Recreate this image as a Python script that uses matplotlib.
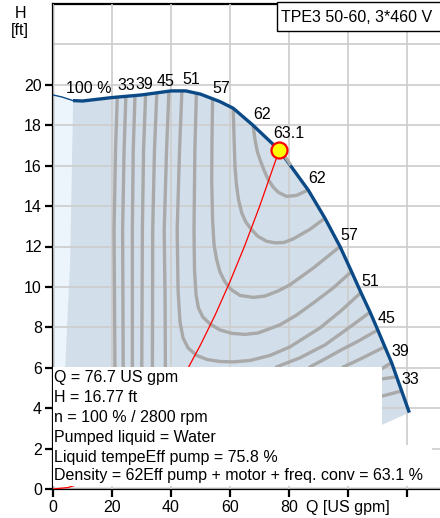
import matplotlib.pyplot as plt
from matplotlib.patches import Rectangle, Polygon

plt.rcParams['font.family'] = ['Liberation Sans', 'DejaVu Sans']
plt.rcParams['font.size'] = 11.5

# QH curve at 100 % speed (thin part before min flow, then thick part)
qh_thin_q = [0, 3, 6.8]
qh_thin_h = [19.5, 19.4, 19.22]
qh_q = [6.8, 10, 20, 30, 40, 45, 50, 56.6, 61.1, 67.8, 76.7, 86.5, 92.2, 97.3,
        101.2, 104.4, 107.5, 110.1, 112.5, 114.8, 116.5, 118.2, 120.8]
qh_h = [19.22, 19.2, 19.37, 19.5, 19.7, 19.7, 19.54, 19.17, 18.84, 18.0, 16.77, 14.8, 13.4, 12.0,
        10.76, 9.72, 8.75, 7.87, 7.04, 6.25, 5.55, 4.85, 3.78]

# left edge of the operating area and its lower edge
minflow_q = [5.8, 4.1, 3.5]
minflow_h = [11.3, 6.04, 0.6]
lower_q = [111.5, 60, 3.5]
lower_h = [3.17, 1.0, 0.6]

# system curve through the duty point
sys_q = [0, 5, 10, 15, 20, 25, 30, 35, 40, 45, 50, 55, 60, 65, 70, 76.7]
sys_h = [0, 0.07, 0.29, 0.64, 1.14, 1.78, 2.57, 3.49, 4.56, 5.77, 7.13, 8.62, 10.26, 12.04, 13.97, 16.77]

duty_q = 76.7
duty_h = 16.77
duty_label = "63.1"
stub_q = [78.9, 80.3]
stub_h = [16.4, 16.09]

# efficiency contours
eff33_q = [21.8, 21.2, 20.7, 21.0, 21.5, 35, 70, 105, 111.6, 118.2]
eff33_h = [19.4, 16.78, 12.82, 6.04, 3.0, 0.8, 1.5, 4.4, 4.6, 4.85]
eff36_q = [24.7, 24.1, 23.6, 23.8, 24.5, 40, 75, 106, 111.6, 116.5]
eff36_h = [19.43, 16.78, 12.82, 6.04, 3.5, 1.3, 2.2, 5.2, 5.45, 5.55]
eff39_q = [27.8, 27.2, 26.9, 26.9, 27.5, 45, 80, 106, 110.2, 114.8]
eff39_h = [19.48, 16.78, 12.82, 6.04, 4.0, 1.8, 3.0, 5.4, 5.85, 6.25]
eff42_q = [31.4, 30.7, 30.3, 30.1, 31, 50, 80, 95, 98.4, 102, 105.8, 112.5]
eff42_h = [19.55, 16.78, 12.82, 6.04, 3.0, 1.0, 2.5, 5.0, 6.04, 6.28, 6.55, 7.04]
eff45_q = [35.2, 34.4, 33.8, 33.7, 34.5, 50, 75, 85, 87.1, 92, 97.3, 103.5, 110.1]
eff45_h = [19.62, 16.78, 12.82, 6.04, 3.2, 1.6, 3.5, 5.5, 6.04, 6.42, 6.85, 7.32, 7.87]
eff48_q = [39.3, 38.5, 37.7, 38.0, 38.1, 39.5, 50, 65, 75.8, 80, 83.7, 92.2, 100.7, 107.5]
eff48_h = [19.68, 16.78, 12.82, 9.36, 6.04, 4.3, 3.4, 4.0, 6.04, 6.28, 6.49, 7.13, 8.02, 8.75]
eff51_q = [43.7, 42.9, 42.1, 42.4, 43.05, 44.07, 45.8, 48.7, 52.2, 56.6, 61.1, 66.8, 73.6, 80.3,
           90.5, 97.5, 104.4]
eff51_h = [19.7, 16.78, 12.82, 9.85, 8.27, 7.48, 6.98, 6.61, 6.41, 6.31, 6.29, 6.36, 6.61, 7.03,
           7.97, 8.8, 9.72]
eff54_q = [48.6, 48.1, 47.8, 47.97, 48.5, 49.3, 50.8, 53.2, 56.6, 60.7, 65.1, 69.5, 76.9, 82.5,
           88.3, 95, 101.2]
eff54_h = [19.56, 16.78, 12.82, 10.84, 9.60, 8.96, 8.51, 8.17, 7.87, 7.70, 7.65, 7.72, 8.12, 8.6,
           9.21, 9.95, 10.76]
eff57_q = [54.1, 53.9, 53.8, 54.1, 54.6, 55.5, 56.6, 58.3, 60.3, 63.4, 67.9, 71.9, 76.3, 80.3,
           88.3, 97.3]
eff57_h = [19.28, 17.28, 15.30, 13.32, 12.08, 11.34, 10.74, 10.25, 9.88, 9.58, 9.48, 9.55, 9.80, 10.1,
           10.94, 12.0]
eff59_q = [61.1, 61.4, 61.7, 62.2, 62.9, 64.0, 65.4, 67.4, 69.5, 72.4, 75.3, 78.3, 81.5, 87.1, 92.2]
eff59_h = [18.84, 17.28, 15.96, 15.05, 14.31, 13.65, 13.2, 12.82, 12.5, 12.26, 12.18, 12.2, 12.38,
           12.85, 13.4]
eff62_q = [67.8, 68.5, 69.3, 70.2, 71.5, 73.0, 74.6, 76.4, 79.2, 82.6, 86.5]
eff62_h = [18.0, 17.28, 16.68, 16.29, 15.79, 15.30, 14.95, 14.68, 14.48, 14.53, 14.8]

contours = [
    ("33", eff33_q, eff33_h), ("", eff36_q, eff36_h), ("39", eff39_q, eff39_h),
    ("", eff42_q, eff42_h), ("45", eff45_q, eff45_h), ("", eff48_q, eff48_h),
    ("51", eff51_q, eff51_h), ("", eff54_q, eff54_h), ("57", eff57_q, eff57_h),
    ("", eff59_q, eff59_h), ("62", eff62_q, eff62_h),
]

info_lines = [
    "Q = 76.7 US gpm",
    "H = 16.77 ft",
    "n = 100 % / 2800 rpm",
    "Pumped liquid = Water",
    "Liquid tempeEff pump = 75.8 %",
    "Density = 62Eff pump + motor + freq. conv = 63.1 %",
]
info_baselines = [5.31, 4.32, 3.33, 2.34, 1.35, 0.45]

x_ticks = [0, 20, 40, 60, 80, 100, 120]
x_ticklabels = ["0", "20", "40", "60", "80", "Q [US gpm]", ""]
y_ticks = [0, 2, 4, 6, 8, 10, 12, 14, 16, 18, 20]

blue = "#0b4a86"
grey = "#a9a9a9"

fig = plt.figure(figsize=(4.4, 5.18), dpi=100)
ax = fig.add_axes([53 / 440, 1 - 489 / 518, 387 / 440, 485 / 518])
ax.set_xlim(0, 131.2)
ax.set_ylim(0, 24)

# shaded operating area
light = list(zip(qh_thin_q, qh_thin_h)) + list(zip(minflow_q, minflow_h)) + [(0, 0.6)]
ax.add_patch(Polygon(light, closed=True, facecolor="#edf5fc", edgecolor="none", zorder=1))
area = list(zip(qh_q, qh_h)) + list(zip(lower_q, lower_h)) + list(zip(minflow_q[::-1], minflow_h[::-1]))
ax.add_patch(Polygon(area, closed=True, facecolor="#d2dee9", edgecolor="none", zorder=1))

ax.set_xticks(x_ticks)
ax.set_xticklabels(x_ticklabels)
ax.set_yticks(y_ticks)
ax.grid(True, color="#cccccc", linewidth=1.2)
ax.axhline(22, color="#cccccc", linewidth=1.2, zorder=2.5)
ax.set_axisbelow(False)
ax.tick_params(direction="out", length=6, width=1.6, pad=2)
for side in ["left", "bottom", "top"]:
    ax.spines[side].set_linewidth(1.6)
ax.spines["right"].set_visible(False)

# efficiency contours and labels
for label, q, h in contours:
    ax.plot(q, h, color=grey, linewidth=2.4, solid_capstyle="butt", solid_joinstyle="round", zorder=3)
    if label:
        ax.annotate(label, (q[0], h[0]), xytext=(9, 11), textcoords="offset pixels",
                    ha="center", va="center", zorder=6)
        ax.annotate(label, (q[-1], h[-1]), xytext=(9, 11), textcoords="offset pixels",
                    ha="center", va="center", zorder=6)

ax.plot(sys_q, sys_h, color="red", linewidth=0.9, zorder=3.5)
ax.plot(qh_thin_q, qh_thin_h, color=blue, linewidth=1.0, zorder=4)
ax.plot(qh_q, qh_h, color=blue, linewidth=2.4, solid_capstyle="butt", solid_joinstyle="round", zorder=4)
ax.plot(stub_q, stub_h, color=grey, linewidth=2.4, zorder=4.5)
ax.text(qh_q[1] + 2, 19.8, "100 %", ha="center", va="center", zorder=6)

# white info box over the lower part
ax.add_patch(Rectangle((0, 0.15), 111.6, 5.89, facecolor="white", edgecolor="none", zorder=5))
ax.add_patch(Rectangle((0, 0.15), 128.5, 2.05, facecolor="white", edgecolor="none", zorder=5))
for line, yb in zip(info_lines, info_baselines):
    ax.text(0.4, yb, line, va="baseline", ha="left", zorder=6)

# duty point
ax.plot([duty_q], [duty_h], marker="o", markersize=11.5, markerfacecolor="#ffff00",
        markeredgecolor="red", markeredgewidth=1.6, zorder=7)
ax.annotate(duty_label, (duty_q, duty_h), xytext=(10, 17), textcoords="offset pixels",
            ha="center", va="center", zorder=7)

# title box
ax.add_patch(Rectangle((0.5788, 0.9443), 0.45, 0.06, transform=ax.transAxes, facecolor="white",
                       edgecolor="black", linewidth=1.0, clip_on=False, zorder=8))
ax.text(0.589, 0.972, "TPE3 50-60, 3*460 V", transform=ax.transAxes, ha="left", va="center", zorder=9)

fig.text(20 / 440, 1 - 14 / 518, "H", ha="center", va="center")
fig.text(20 / 440, 1 - 31 / 518, "[ft]", ha="center", va="center")

fig.savefig("out.png", dpi=100)
